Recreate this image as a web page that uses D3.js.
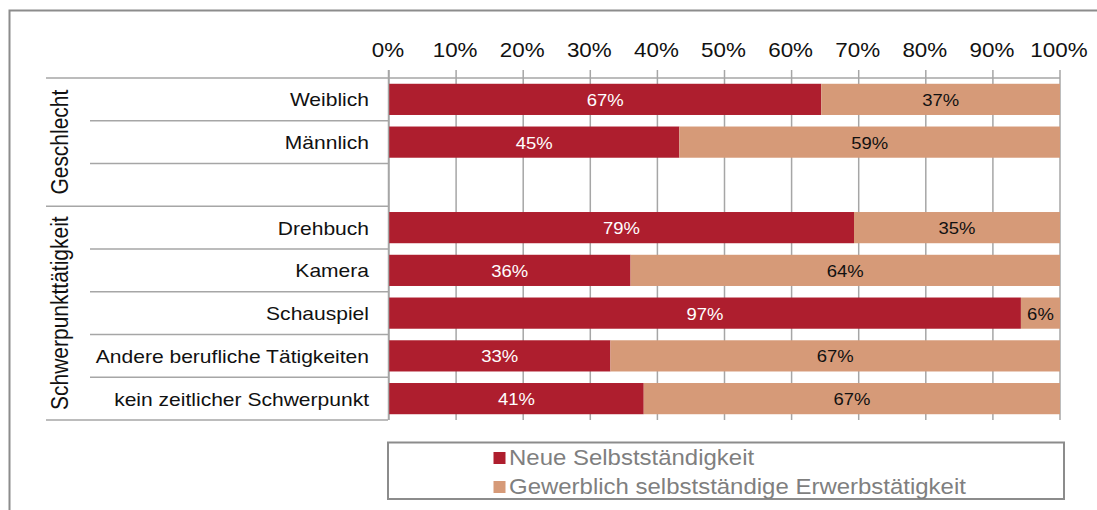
<!DOCTYPE html>
<html>
<head>
<meta charset="utf-8">
<script src="https://cdn.jsdelivr.net/npm/d3@7"></script>
<style>
  html, body { margin: 0; padding: 0; background: #fff; }
  svg { display: block; font-family: "Liberation Sans", Arial, sans-serif; }
</style>
</head>
<body>
<svg id="chart" width="1097" height="510"></svg>
<script>
const categories = ["Weiblich", "Männlich", "", "Drehbuch", "Kamera", "Schauspiel", "Andere berufliche Tätigkeiten", "kein zeitlicher Schwerpunkt"];
const neueValues = [67, 45, null, 79, 36, 97, 33, 41];
const gewerblichValues = [37, 59, null, 35, 64, 6, 67, 67];
const groupNames = ["Geschlecht", "Schwerpunkttätigkeit"];
const groupStarts = [0, 3];
const groupEnds = [3, 8];
const tickValues = [0, 10, 20, 30, 40, 50, 60, 70, 80, 90, 100];
const tickLabels = ["0%", "10%", "20%", "30%", "40%", "50%", "60%", "70%", "80%", "90%", "100%"];
const seriesNames = ["Neue Selbstständigkeit", "Gewerblich selbstständige Erwerbstätigkeit"];
const seriesColors = ["#AE1E2E", "#D69A78"];

const SX = 1.12;
const svg = d3.select("#chart");
const gridColor = "#a6a6a6";

const x = d3.scaleLinear().domain([0, 100]).range([389, 1060]);
const y = d3.scaleBand().domain(d3.range(categories.length)).range([78, 420])
  .paddingInner(0.27).paddingOuter(0.135);
const step = y.step();
const rowTop = i => 78 + i * step;

function txt(sel, tx, ty, rot) {
  return sel.attr("transform", `translate(${tx},${ty}) scale(${SX},1)` + (rot ? ` rotate(${rot})` : ""));
}

// outer frame
svg.append("path").attr("d", "M9.5,510 V10.5 H1097").attr("fill", "none")
  .attr("stroke", "#8c8c8c").attr("stroke-width", 2);

// gridlines
svg.append("g").selectAll("line").data(tickValues).join("line")
  .attr("x1", d => x(d)).attr("x2", d => x(d))
  .attr("y1", 70).attr("y2", 420)
  .attr("stroke", gridColor).attr("stroke-width", 1.5);

// row separators in label area
const bounds = d3.range(categories.length + 1);
svg.append("g").selectAll("line").data(bounds).join("line")
  .attr("x1", d => (groupStarts.includes(d) || d === categories.length) ? 46 : 90)
  .attr("x2", d => d === 0 ? 1060 : 388)
  .attr("y1", d => rowTop(d)).attr("y2", d => rowTop(d))
  .attr("stroke", gridColor).attr("stroke-width", 1.5);

// stacked, normalised bars
const rows = categories.map((c, i) => ({ i, c, a: neueValues[i], b: gewerblichValues[i] }))
  .filter(r => r.a != null);
const gBars = svg.append("g");
rows.forEach(r => {
  const tot = r.a + r.b;
  const pa = r.a / tot * 100;
  gBars.append("rect").attr("x", x(0)).attr("y", y(r.i)).attr("width", x(pa) - x(0))
    .attr("height", y.bandwidth()).attr("fill", seriesColors[0]);
  gBars.append("rect").attr("x", x(pa)).attr("y", y(r.i)).attr("width", x(100) - x(pa))
    .attr("height", y.bandwidth()).attr("fill", seriesColors[1]);
  const cy = y(r.i) + y.bandwidth() / 2 + 6.5;
  txt(gBars.append("text"), (x(0) + x(pa)) / 2, cy)
    .attr("text-anchor", "middle").attr("font-size", 16.5).attr("fill", "#fff").text(r.a + "%");
  txt(gBars.append("text"), (x(pa) + x(100)) / 2, cy)
    .attr("text-anchor", "middle").attr("font-size", 16.5).attr("fill", "#111").text(r.b + "%");
});

// axis line on the left of the plot
svg.append("line").attr("x1", 388.5).attr("x2", 388.5).attr("y1", 70).attr("y2", 420)
  .attr("stroke", gridColor).attr("stroke-width", 1.5);

// tick labels
const gTicks = svg.append("g");
tickValues.forEach((t, k) => {
  txt(gTicks.append("text"), x(t) - 1, 57).attr("text-anchor", "middle")
    .attr("font-size", 20).attr("fill", "#111").text(tickLabels[k]);
});

// category labels
const gCat = svg.append("g");
categories.forEach((c, i) => {
  if (!c) return;
  txt(gCat.append("text"), 369, y(i) + y.bandwidth() / 2 + 7).attr("text-anchor", "end")
    .attr("font-size", 18.8).attr("fill", "#111").text(c);
});

// group labels (rotated)
groupNames.forEach((g, k) => {
  const cy = (rowTop(groupStarts[k]) + rowTop(groupEnds[k])) / 2;
  txt(svg.append("text"), 68, cy, -90).attr("text-anchor", "middle")
    .attr("font-size", 21).attr("fill", "#111").text(g);
});

// legend
svg.append("rect").attr("x", 388).attr("y", 442.5).attr("width", 676).attr("height", 56.5)
  .attr("fill", "#fff").attr("stroke", "#8c8c8c").attr("stroke-width", 2);
seriesNames.forEach((s, k) => {
  const by = 464.5 + k * 29;
  svg.append("rect").attr("x", 493.5).attr("y", by - 12.5).attr("width", 12).attr("height", 12)
    .attr("fill", seriesColors[k]);
  txt(svg.append("text"), 509, by).attr("font-size", 21.4).attr("fill", "#7f7f7f").text(s);
});
</script>
</body>
</html>
